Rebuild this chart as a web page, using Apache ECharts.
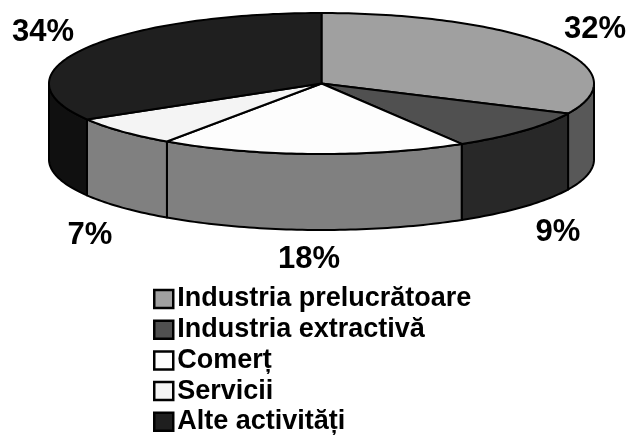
<!DOCTYPE html>
<html>
<head>
<meta charset="utf-8">
<style>
  html, body { margin: 0; padding: 0; background: #fff; }
  #chart { width: 628px; height: 435px; }
</style>
<script src="https://cdn.jsdelivr.net/npm/echarts@6/dist/echarts.min.js"></script>
</head>
<body>
<div id="chart"></div>
<script>
const categories = ['Industria prelucrătoare', 'Industria extractivă', 'Comerț', 'Servicii', 'Alte activități'];
// slice sizes as measured on the picture, the printed labels are rounded differently
const values = [32.0, 9.4, 18.2, 6.9, 33.5];
const labels = ['32%', '9%', '18%', '7%', '34%'];

const topColors = ['#a0a0a0', '#505050', '#fdfdfd', '#f4f4f4', '#1f1f1f'];
const sideColors = ['#585858', '#282828', '#808080', '#808080', '#101010'];
const labelPos = [[595, 29], [558, 232], [309, 259], [90, 235], [43, 32]];

const cx = 321.5, cy = 83.5, rx = 272.5, ry = 70.5, depth = 76;
const total = values.reduce((a, b) => a + b, 0);

// angle in radians, 0 at 12 o'clock going clockwise
const rim = (a, dy) => [cx + rx * Math.sin(a), cy - ry * Math.cos(a) + (dy || 0)];

const arc = (from, to, dy) => {
    const pts = [];
    const n = Math.max(2, Math.ceil((to - from) / 0.02));
    for (let i = 0; i <= n; i++) {
        pts.push(rim(from + (to - from) * i / n, dy));
    }
    return pts;
};

const lineStyle = { stroke: '#000', lineWidth: 2, lineJoin: 'round' };

const renderSlice = (index) => () => {
    const before = values.slice(0, index).reduce((a, b) => a + b, 0);
    const start = before / total * Math.PI * 2;
    const end = (before + values[index]) / total * Math.PI * 2;
    const children = [];

    // only the front half of the rim is visible
    const sideFrom = Math.max(start, Math.PI / 2);
    const sideTo = Math.min(end, Math.PI * 3 / 2);
    if (sideTo > sideFrom) {
        const sidePts = arc(sideFrom, sideTo, 0).concat(arc(sideFrom, sideTo, depth).reverse());
        children.push({
            type: 'polygon',
            shape: { points: sidePts },
            style: { fill: sideColors[index], ...lineStyle }
        });
    }
    children.push({
        type: 'polygon',
        shape: { points: [[cx, cy]].concat(arc(start, end, 0)) },
        style: { fill: topColors[index], ...lineStyle }
    });
    children.push({
        type: 'text',
        style: {
            x: labelPos[index][0],
            y: labelPos[index][1],
            text: labels[index],
            fill: '#000',
            font: 'bold 31px "Liberation Sans"',
            align: 'center',
            verticalAlign: 'middle'
        }
    });
    return { type: 'group', children };
};

const chart = echarts.init(document.getElementById('chart'), null, { renderer: 'canvas' });
chart.setOption({
    animation: false,
    backgroundColor: '#fff',
    legend: {
        orient: 'vertical',
        left: 153,
        top: 285.5,
        height: 200,
        padding: 0,
        itemWidth: 19,
        itemHeight: 18,
        itemGap: 3.7,
        icon: 'rect',
        itemStyle: { borderColor: '#000', borderWidth: 2.5 },
        textStyle: {
            color: '#000',
            fontFamily: 'Liberation Sans',
            fontWeight: 'bold',
            fontSize: 27,
            padding: [0, 0, 0, -1]
        },
        data: categories
    },
    series: categories.map((name, index) => ({
        type: 'custom',
        name,
        coordinateSystem: 'none',
        silent: true,
        itemStyle: { color: topColors[index] },
        data: [[values[index]]],
        renderItem: renderSlice(index)
    }))
});
</script>
</body>
</html>
